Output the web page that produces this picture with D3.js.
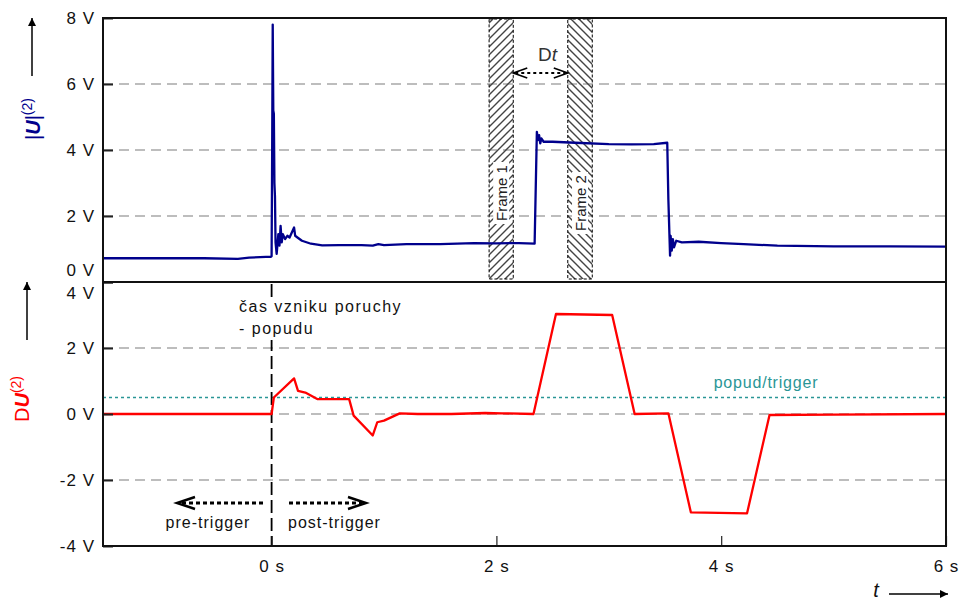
<!DOCTYPE html>
<html>
<head>
<meta charset="utf-8">
<script src="https://cdn.jsdelivr.net/npm/d3@7"></script>
<style>
  body { margin: 0; background: #fff; }
  text { font-family: "Liberation Sans", Arial, sans-serif; }
</style>
</head>
<body>
<svg id="chart" width="961" height="603"></svg>
<script>
// |U|(2) measured signal (time in s, value in V)
let uTime = [-1.5, -0.6, -0.3, -0.2, -0.05, -0.01, 0.0, 0.005, 0.01, 0.015, 0.02, 0.025, 0.03, 0.035, 0.045,
  0.06, 0.07, 0.08, 0.09, 0.1, 0.12, 0.14, 0.16, 0.18, 0.2, 0.21, 0.23, 0.27, 0.35, 0.45, 0.6, 0.8, 0.9,
  0.95, 1.0, 1.2, 1.5, 1.8, 2.0, 2.2, 2.34, 2.345, 2.36, 2.37, 2.38, 2.39, 2.4, 2.42, 2.5, 2.7, 3.0, 3.2,
  3.4, 3.52, 3.53, 3.545, 3.55, 3.56, 3.57, 3.58, 3.6, 3.65, 3.8, 4.0, 4.2, 4.5, 5.0, 5.5, 6.0];
let uVals = [0.72, 0.72, 0.70, 0.74, 0.76, 0.76, 0.78, 4.0, 7.8, 5.2, 5.1, 3.0, 2.6, 1.2, 0.85,
  1.45, 1.1, 1.7, 1.2, 1.45, 1.3, 1.4, 1.35, 1.5, 1.65, 1.4, 1.35, 1.25, 1.16, 1.11, 1.12, 1.12, 1.10,
  1.15, 1.12, 1.15, 1.15, 1.18, 1.17, 1.18, 1.16, 2.0, 4.55, 4.3, 4.45, 4.2, 4.35, 4.25, 4.25, 4.22, 4.18, 4.17,
  4.18, 4.22, 2.5, 0.8, 1.4, 0.95, 1.3, 1.05, 1.25, 1.2, 1.22, 1.18, 1.15, 1.1, 1.08, 1.08, 1.07];

// DU(2) difference signal
let dTime = [-1.5, 0.0, 0.02, 0.2, 0.235, 0.3, 0.41, 0.69, 0.73, 0.9, 0.94, 1.0, 1.14, 1.3, 1.6, 1.9, 2.05,
  2.33, 2.53, 3.03, 3.23, 3.53, 3.73, 4.23, 4.43, 5.0, 6.0];
let dVals = [0, 0, 0.5, 1.08, 0.7, 0.65, 0.45, 0.45, -0.05, -0.65, -0.25, -0.2, 0.02, 0.0, 0.0, 0.03, 0.02,
  0, 3.03, 3.0, 0, 0.02, -2.98, -3.01, -0.03, -0.02, 0];

let triggerLevel = 0.5;
let frameStart = [1.935, 2.635];
let frameEnd = [2.15, 2.853];
let frameNames = ["Frame 1", "Frame 2"];
let topTicks = [0, 2, 4, 6, 8];
let botTicks = [-4, -2, 0, 2, 4];
let timeTicks = [0, 2, 4, 6];

let svg = d3.select("#chart");
let left = 103, right = 946, top1 = 18, mid = 282, bottom = 546;
let blue = "#00008c", red = "#ff0000", teal = "#2a9696", grid = "#a8a8a8";

let x = d3.scaleLinear().domain([-1.5, 6]).range([left, right]);
let yTop = d3.scaleLinear().domain([0, 8]).range([mid, top1]);
let yBot = d3.scaleLinear().domain([-4, 4]).range([bottom, mid]);

let defs = svg.append("defs");
// hatch patterns for the two frames
defs.append("pattern").attr("id", "hatchA").attr("patternUnits", "userSpaceOnUse")
    .attr("width", 8).attr("height", 8)
    .append("path").attr("d", "M-2,2 l4,-4 M0,8 l8,-8 M6,10 l4,-4")
    .attr("stroke", "#444").attr("stroke-width", 1.4);
defs.append("pattern").attr("id", "hatchB").attr("patternUnits", "userSpaceOnUse")
    .attr("width", 8).attr("height", 8)
    .append("path").attr("d", "M-2,6 l4,4 M0,0 l8,8 M6,-2 l4,4")
    .attr("stroke", "#444").attr("stroke-width", 1.4);
defs.append("marker").attr("id", "tri").attr("viewBox", "0 0 10 10")
    .attr("refX", 10).attr("refY", 5).attr("markerWidth", 14).attr("markerHeight", 8)
    .attr("markerUnits", "userSpaceOnUse").attr("orient", "auto")
    .append("path").attr("d", "M0,0 L10,5 L0,10 Z").attr("fill", "#000");

// gridlines
svg.append("g").selectAll("line").data([2, 4, 6]).enter().append("line")
    .attr("x1", left).attr("x2", right)
    .attr("y1", d => yTop(d)).attr("y2", d => yTop(d))
    .attr("stroke", grid).attr("stroke-width", 1.5).attr("stroke-dasharray", "10,6");
svg.append("g").selectAll("line").data([-2, 0, 2]).enter().append("line")
    .attr("x1", left).attr("x2", right)
    .attr("y1", d => yBot(d)).attr("y2", d => yBot(d))
    .attr("stroke", grid).attr("stroke-width", 1.5).attr("stroke-dasharray", "10,6");

// frames
let frames = svg.append("g").selectAll("g").data(frameNames).enter().append("g");
frames.append("rect")
    .attr("x", (d, i) => x(frameStart[i])).attr("y", top1 + 1)
    .attr("width", (d, i) => x(frameEnd[i]) - x(frameStart[i]))
    .attr("height", mid - top1 - 4)
    .attr("fill", (d, i) => i == 0 ? "url(#hatchA)" : "url(#hatchB)")
    .attr("stroke", "#000").attr("stroke-width", 1).attr("stroke-dasharray", "3,2");
let fCenter = [193, 203];
frames.append("rect")
    .attr("x", (d, i) => (x(frameStart[i]) + x(frameEnd[i])) / 2 - 8)
    .attr("y", (d, i) => fCenter[i] - 31)
    .attr("width", 16).attr("height", 62).attr("fill", "#fff");
frames.append("text")
    .attr("transform", (d, i) => "translate(" + ((x(frameStart[i]) + x(frameEnd[i])) / 2 + 6) + "," + fCenter[i] + ") rotate(-90)")
    .attr("text-anchor", "middle").attr("font-size", 15).attr("fill", "#222")
    .text(d => d);

// Dt annotation
let dtY = 73;
svg.append("line").attr("x1", x(frameEnd[0]) + 2).attr("x2", x(frameStart[1]) - 2)
    .attr("y1", dtY).attr("y2", dtY)
    .attr("stroke", "#000").attr("stroke-width", 2).attr("stroke-dasharray", "3,3");
svg.append("path")
    .attr("d", "M" + (x(frameEnd[0]) + 14) + "," + (dtY - 5) + " L" + x(frameEnd[0]) + "," + dtY + " L" + (x(frameEnd[0]) + 14) + "," + (dtY + 5)
        + " M" + (x(frameStart[1]) - 14) + "," + (dtY - 5) + " L" + x(frameStart[1]) + "," + dtY + " L" + (x(frameStart[1]) - 14) + "," + (dtY + 5))
    .attr("fill", "none").attr("stroke", "#000").attr("stroke-width", 1.6);
let dt = svg.append("text").attr("x", (x(frameEnd[0]) + x(frameStart[1])) / 2 + 7).attr("y", 61)
    .attr("text-anchor", "middle").attr("font-size", 19).attr("fill", "#333");
dt.append("tspan").text("D");
dt.append("tspan").attr("font-style", "italic").text("t");

// trigger level
svg.append("line").attr("x1", left).attr("x2", right)
    .attr("y1", yBot(triggerLevel)).attr("y2", yBot(triggerLevel))
    .attr("stroke", teal).attr("stroke-width", 1.5).attr("stroke-dasharray", "3,3");
svg.append("text").attr("x", 766).attr("y", 388).attr("text-anchor", "middle")
    .attr("font-size", 16).attr("letter-spacing", 0.8).attr("fill", teal).text("popud/trigger");

// fault instant marker
svg.append("line").attr("x1", x(0)).attr("x2", x(0)).attr("y1", mid + 2).attr("y2", bottom)
    .attr("stroke", "#000").attr("stroke-width", 1.8).attr("stroke-dasharray", "13,5");
svg.append("rect").attr("x", 238).attr("y", 298).attr("width", 170).attr("height", 42).attr("fill", "#fff");
svg.append("text").attr("x", 239).attr("y", 312).attr("font-size", 16).attr("letter-spacing", 1.5)
    .attr("fill", "#111").text("čas vzniku poruchy");
svg.append("text").attr("x", 239).attr("y", 334).attr("font-size", 16).attr("letter-spacing", 1.5)
    .attr("fill", "#111").text("- popudu");

// lines
let uLine = d3.line().x((d, i) => x(uTime[i])).y(d => yTop(d));
svg.append("path").datum(uVals).attr("d", uLine)
    .attr("fill", "none").attr("stroke", blue).attr("stroke-width", 2.3).attr("stroke-linejoin", "round");
let dLine = d3.line().x((d, i) => x(dTime[i])).y(d => yBot(d));
svg.append("path").datum(dVals).attr("d", dLine)
    .attr("fill", "none").attr("stroke", red).attr("stroke-width", 2.3).attr("stroke-linejoin", "round");

// pre/post trigger arrows
let arrY = 503;
let arrows = [[263, 177], [289, 366]];
arrows.forEach(function(a) {
  let dir = a[1] > a[0] ? -1 : 1;
  svg.append("line").attr("x1", a[0]).attr("x2", a[1] + dir * 4).attr("y1", arrY).attr("y2", arrY)
      .attr("stroke", "#000").attr("stroke-width", 3).attr("stroke-dasharray", "4,3");
  svg.append("path")
      .attr("d", "M" + (a[1] + dir * 18) + "," + (arrY - 6) + " L" + a[1] + "," + arrY + " L" + (a[1] + dir * 18) + "," + (arrY + 6))
      .attr("fill", "none").attr("stroke", "#000").attr("stroke-width", 2.5);
});
svg.append("text").attr("x", 208).attr("y", 528).attr("text-anchor", "middle")
    .attr("font-size", 16).attr("letter-spacing", 1).attr("fill", "#111").text("pre-trigger");
svg.append("text").attr("x", 288).attr("y", 528)
    .attr("font-size", 16).attr("letter-spacing", 1).attr("fill", "#111").text("post-trigger");

// axes
let axTop = svg.append("g").attr("transform", "translate(" + left + ",0)")
    .call(d3.axisLeft(yTop).tickValues(topTicks).tickSize(-10).tickPadding(8).tickFormat(d => d + " V"));
let axBot = svg.append("g").attr("transform", "translate(" + left + ",0)")
    .call(d3.axisLeft(yBot).tickValues(botTicks).tickSize(-10).tickPadding(8).tickFormat(d => d + " V"));
let axX = svg.append("g").attr("transform", "translate(0," + bottom + ")")
    .call(d3.axisBottom(x).tickValues(timeTicks).tickSize(-10).tickPadding(14).tickFormat(d => d + " s"));
[axTop, axBot, axX].forEach(function(a) {
  a.select(".domain").remove();
  a.selectAll("text").attr("font-size", 17).attr("fill", "#111").attr("letter-spacing", 1)
      .style("font-family", "'Liberation Sans', Arial, sans-serif");
});
axTop.selectAll(".tick line").attr("stroke", "#222").attr("stroke-width", 2);
axBot.selectAll(".tick line").attr("stroke", "#222").attr("stroke-width", 2);
axX.selectAll(".tick line").attr("stroke", "#222").attr("stroke-width", 1.2);
axTop.selectAll(".tick text").filter(d => d == 0).attr("y", -12);
axBot.selectAll(".tick text").filter(d => d == 4).attr("y", 11);

// panel borders
svg.append("rect").attr("x", left).attr("y", top1).attr("width", right - left).attr("height", mid - top1)
    .attr("fill", "none").attr("stroke", "#111").attr("stroke-width", 2);
svg.append("rect").attr("x", left).attr("y", mid).attr("width", right - left).attr("height", bottom - mid)
    .attr("fill", "none").attr("stroke", "#111").attr("stroke-width", 2);

// axis titles
let tTop = svg.append("text").attr("transform", "translate(40,119) rotate(-90)")
    .attr("text-anchor", "middle").attr("font-size", 20).attr("fill", blue);
tTop.append("tspan").text("|");
tTop.append("tspan").attr("font-weight", "bold").attr("font-style", "italic").text("U");
tTop.append("tspan").text("|");
tTop.append("tspan").attr("font-size", 14).attr("dy", -8).text("(2)");
svg.append("line").attr("x1", 32).attr("x2", 32).attr("y1", 76).attr("y2", 18)
    .attr("stroke", "#000").attr("stroke-width", 1.5).attr("marker-end", "url(#tri)");

let tBot = svg.append("text").attr("transform", "translate(29,399) rotate(-90)")
    .attr("text-anchor", "middle").attr("font-size", 20).attr("fill", red);
tBot.append("tspan").text("D");
tBot.append("tspan").attr("font-weight", "bold").attr("font-style", "italic").text("U");
tBot.append("tspan").attr("font-size", 14).attr("dy", -8).text("(2)");
svg.append("line").attr("x1", 27).attr("x2", 27).attr("y1", 340).attr("y2", 282)
    .attr("stroke", "#000").attr("stroke-width", 1.5).attr("marker-end", "url(#tri)");

svg.append("text").attr("x", 876).attr("y", 597).attr("text-anchor", "middle")
    .attr("font-size", 20).attr("font-style", "italic").attr("fill", "#111").text("t");
svg.append("line").attr("x1", 889).attr("x2", 948).attr("y1", 594).attr("y2", 594)
    .attr("stroke", "#000").attr("stroke-width", 1.5).attr("marker-end", "url(#tri)");
</script>
</body>
</html>
